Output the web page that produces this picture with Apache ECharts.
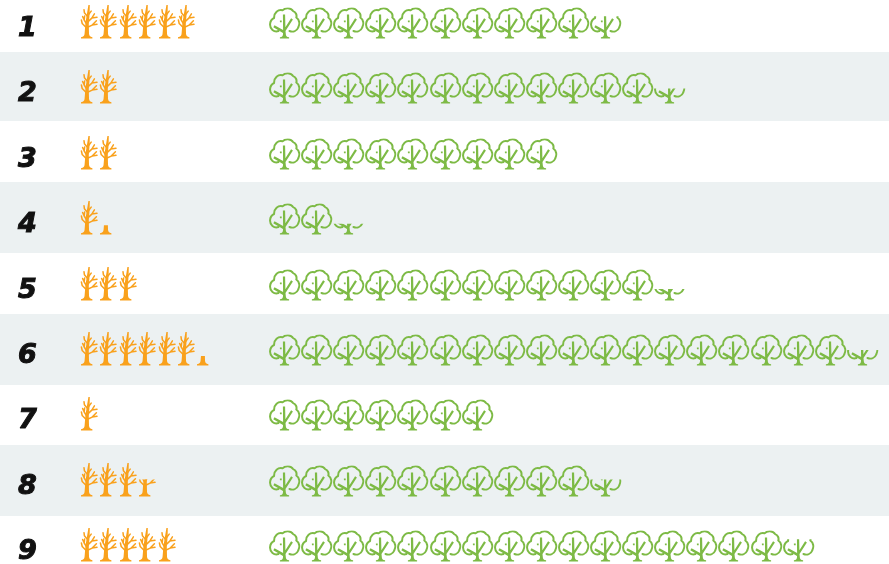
<!DOCTYPE html>
<html>
<head>
<meta charset="utf-8">
<style>
html,body{margin:0;padding:0;background:#fff}
#c{width:889px;height:564px;filter:blur(0.5px)}
</style>
<script src="https://cdn.jsdelivr.net/npm/echarts@6/dist/echarts.min.js"></script>
</head>
<body>
<div id="c"></div>
<script>
const rowLabels = ['1','2','3','4','5','6','7','8','9'];
const orangeTrees = [6, 2, 2, 1.27, 3, 6.28, 1, 3.5, 5];
const greenTrees = [10.72, 12.48, 9, 2.35, 12.37, 18.5, 7, 10.55, 16.72];

const GREEN = '#7dba45', ORANGE = '#f9a11c', BAND = '#ecf1f2';

// Pictogram shapes, in local units
const greenShape = {
  w: 30, h: 31, dx: -0.5,
  stroke: 'M9 23.5C4.5 25 .2 21.5 .6 16.5C.8 13.5 2.4 11.5 4.6 10.5C4.4 5 8.6 1.8 13 2.8C15.5 -.2 21.4 -.2 23.6 3.6C26.4 4.6 27.6 7.6 26.8 10C29.8 12 30.6 16 28.8 19.8C27.2 23.6 23.6 25 20 23.5',
  lineWidth: 2,
  fill: 'M13.2 31H10.4V29.8C12.8 29.4 13.5 28.2 13.5 26.4V25.6L3.8 19.8L5 17.8L13.6 22.6L13.4 7H15.6L15.9 19.8L21.6 10.8L23.4 12L16 23.6L16.3 26.4C16.3 28.2 17.2 29.4 19.6 29.8V31Z M10.4 13h1.8v1.8h-1.8z'
};
const orangeShape = {
  w: 18, h: 34, dx: 1,
  stroke: 'M5.2 23L1.2 19M1.2 19L.4 15.5M5.4 19.2L3.2 15.5M3.2 15.5L1.6 12M3.2 15.5L3.6 11.5M6 23L11.2 20.6L16 19.8M11.2 20.6L15.4 16.2M6.6 17.6L10.8 13.6L16 12.8M10.8 13.6L13.4 9.4M7 12.4L3.4 8.2M3.4 8.2L3 5.2M7.4 10.2L10.2 6.6',
  lineWidth: 1.5,
  fill: 'M0 34V32.8C2.6 32.4 3.4 31.2 3.6 29L4.4 19L6 9L7.4 .6L8.8 .6L8.6 9.4L7.8 19.4L8 29C8.2 31.2 9 32.4 11.4 32.8V34Z'
};

function treeRenderer(shape, color) {
  return function (params, api) {
    const row = api.value(1), v = api.value(0);
    const children = [];
    for (let i = 0; i < Math.ceil(v); i++) {
      const p = api.coord([i + 0.5, row]);
      const f = Math.min(1, v - i);
      const pos = { x: Math.round(p[0]) - shape.w / 2 + shape.dx, y: Math.round(p[1]) + 16.5 - shape.h };
      const clip = { type: 'rect', shape: { x: -4, y: shape.h * (1 - f), width: shape.w + 8, height: shape.h * f + 1 } };
      children.push({
        type: 'path', x: pos.x, y: pos.y, clipPath: clip,
        shape: { pathData: shape.stroke },
        style: { fill: 'none', stroke: color, lineWidth: shape.lineWidth, lineCap: 'round', lineJoin: 'round' }
      });
      children.push({
        type: 'path', x: pos.x, y: pos.y, clipPath: clip,
        shape: { pathData: shape.fill },
        style: { fill: color, stroke: 'none' }
      });
    }
    return { type: 'group', children };
  };
}

// Uneven band edges seen in the reference
const bandEdges = [[52, 121], [182, 253], [314, 385], [445, 516]];

const rowPitch = 65.4, firstRowCentre = 22;
const gridTop = firstRowCentre - rowPitch / 2, gridH = rowPitch * rowLabels.length;

const chart = echarts.init(document.getElementById('c'), null, { renderer: 'canvas' });
chart.setOption({
  animation: false,
  backgroundColor: '#fff',
  graphic: bandEdges.map(b => ({
    type: 'rect', z: -1, silent: true,
    shape: { x: 0, y: b[0], width: 889, height: b[1] - b[0] },
    style: { fill: BAND }
  })),
  grid: [
    { left: 79.3, width: 135.8, top: gridTop, height: gridH, outerBoundsMode: 'none' },
    { left: 269, width: 609.9, top: gridTop, height: gridH, outerBoundsMode: 'none' }
  ],
  xAxis: [
    { type: 'value', gridIndex: 0, min: 0, max: 7, show: false },
    { type: 'value', gridIndex: 1, min: 0, max: 19, show: false }
  ],
  yAxis: [
    {
      type: 'category', gridIndex: 0, inverse: true, data: rowLabels,
      axisLine: { show: false }, axisTick: { show: false }, splitLine: { show: false },
      axisLabel: {
        color: '#111', fontFamily: 'DejaVu Sans', fontWeight: 'bold', fontStyle: 'italic',
        fontSize: 27, margin: 52, align: 'center', verticalAlign: 'top', lineHeight: 14,
        textBorderColor: '#111', textBorderWidth: 1
      }
    },
    {
      type: 'category', gridIndex: 1, inverse: true, data: rowLabels,
      axisLine: { show: false }, axisTick: { show: false }, axisLabel: { show: false }, splitLine: { show: false }
    }
  ],
  series: [
    {
      type: 'custom', name: 'Orange trees', xAxisIndex: 0, yAxisIndex: 0,
      data: orangeTrees.map((v, i) => [v, i]), encode: { x: 0, y: 1 },
      renderItem: treeRenderer(orangeShape, ORANGE), silent: true
    },
    {
      type: 'custom', name: 'Green trees', xAxisIndex: 1, yAxisIndex: 1,
      data: greenTrees.map((v, i) => [v, i]), encode: { x: 0, y: 1 },
      renderItem: treeRenderer(greenShape, GREEN), silent: true
    }
  ]
});
</script>
</body>
</html>
